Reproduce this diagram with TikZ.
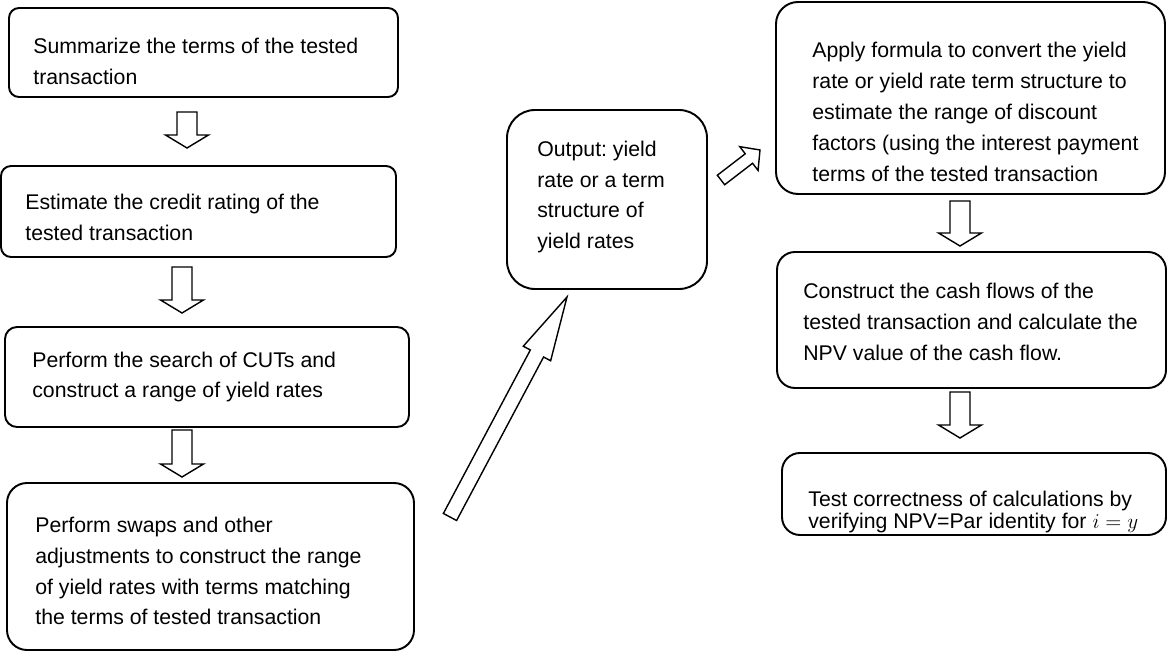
\documentclass[tikz,border=0pt]{standalone}
\usepackage{fontspec}
\setmainfont{Liberation Sans}
\frenchspacing
\usetikzlibrary{calc,fit}
\tikzset{
  stepbox/.style={draw,line width=1.1pt,inner sep=0pt},
  steptext/.style={anchor=west,inner sep=0pt,align=left},
  blockarrow/.style={draw,line width=0.8pt,fill=white,line join=miter}
}
% #1 from, #2 to, #3 half shaft, #4 half head, #5 head length
\newcommand{\fatarrow}[5]{%
  \coordinate (fab) at ($(#2)!#5!(#1)$);
  \draw[blockarrow] ($(#1)!#3!90:(#2)$) -- ($(fab)!#3!90:(#2)$) -- ($(fab)!#4!90:(#2)$) -- (#2)
    -- ($(fab)!#4!-90:(#2)$) -- ($(fab)!#3!-90:(#2)$) -- ($(#1)!#3!-90:(#2)$) -- cycle;
}
\begin{document}
\begin{tikzpicture}[x=0.02cm,y=-0.02cm,every node/.style={font=\fontsize{12.1pt}{17.6pt}\selectfont}]
\useasboundingbox (0,0) rectangle (1167,651);
\node[stepbox,rounded corners=0.2cm,fit={(9,8) (398,97)}] (sum) {};
\node[stepbox,rounded corners=0.2cm,fit={(1,166) (396,257)}] (credit) {};
\node[stepbox,rounded corners=0.24cm,fit={(5,327) (409,427)}] (cuts) {};
\node[stepbox,rounded corners=0.4cm,fit={(7,483) (414,650)}] (swaps) {};
\node[stepbox,rounded corners=0.56cm,fit={(507,110) (707,289)}] (output) {};
\node[stepbox,rounded corners=0.44cm,fit={(776,2) (1165,194)}] (formula) {};
\node[stepbox,rounded corners=0.36cm,fit={(777,252) (1166,388)}] (cash) {};
\node[stepbox,rounded corners=0.36cm,fit={(782,453) (1166,535)}] (test) {};
\node[steptext] (sumtxt) at (33,61) {Summarize the terms of the tested\\transaction};
\node[steptext] (credittxt) at (25,217) {Estimate the credit rating of the\\tested transaction};
\node[steptext] (cutstxt) at (32,377) {Perform the search of CUTs and\\construct a range of yield rates};
\node[steptext] (swapstxt) at (35,571) {Perform swaps and other\\adjustments to construct the range\\of yield rates with terms matching\\the terms of tested transaction};
\node[steptext] (outputtxt) at (537,197) {Output: yield\\rate or a term\\structure of\\yield rates};
\node[steptext] (formulatxt) at (812,112) {Apply formula to convert the yield\\rate or yield rate term structure to\\estimate the range of discount\\factors (using the interest payment\\terms of the tested transaction};
\node[steptext] (cashtxt) at (803,322) {Construct the cash flows of the\\tested transaction and calculate the\\NPV value of the cash flow.};
\node[steptext,font=\fontsize{12.1pt}{12pt}\selectfont] (testtxt) at (808,512) {Test correctness of calculations by\\verifying NPV=Par identity for $i = y$};
\coordinate (a1s) at (187,112); \coordinate (a1e) at (187,148);
\coordinate (a2s) at (182,267); \coordinate (a2e) at (182,313);
\coordinate (a3s) at (182,430); \coordinate (a3e) at (182,477);
\coordinate (a4s) at (450,517); \coordinate (a4e) at (567,297);
\coordinate (a5s) at (721,180); \coordinate (a5e) at (760,150);
\coordinate (a6s) at (960,201); \coordinate (a6e) at (960,246);
\coordinate (a7s) at (960,392); \coordinate (a7e) at (960,438);
\fatarrow{a1s}{a1e}{0.2cm}{0.43cm}{0.26cm}
\fatarrow{a2s}{a2e}{0.2cm}{0.43cm}{0.26cm}
\fatarrow{a3s}{a3e}{0.2cm}{0.43cm}{0.26cm}
\fatarrow{a4s}{a4e}{0.15cm}{0.31cm}{1.28cm}
\fatarrow{a5s}{a5e}{0.12cm}{0.3cm}{0.28cm}
\fatarrow{a6s}{a6e}{0.2cm}{0.43cm}{0.26cm}
\fatarrow{a7s}{a7e}{0.2cm}{0.43cm}{0.26cm}
\end{tikzpicture}
\end{document}
